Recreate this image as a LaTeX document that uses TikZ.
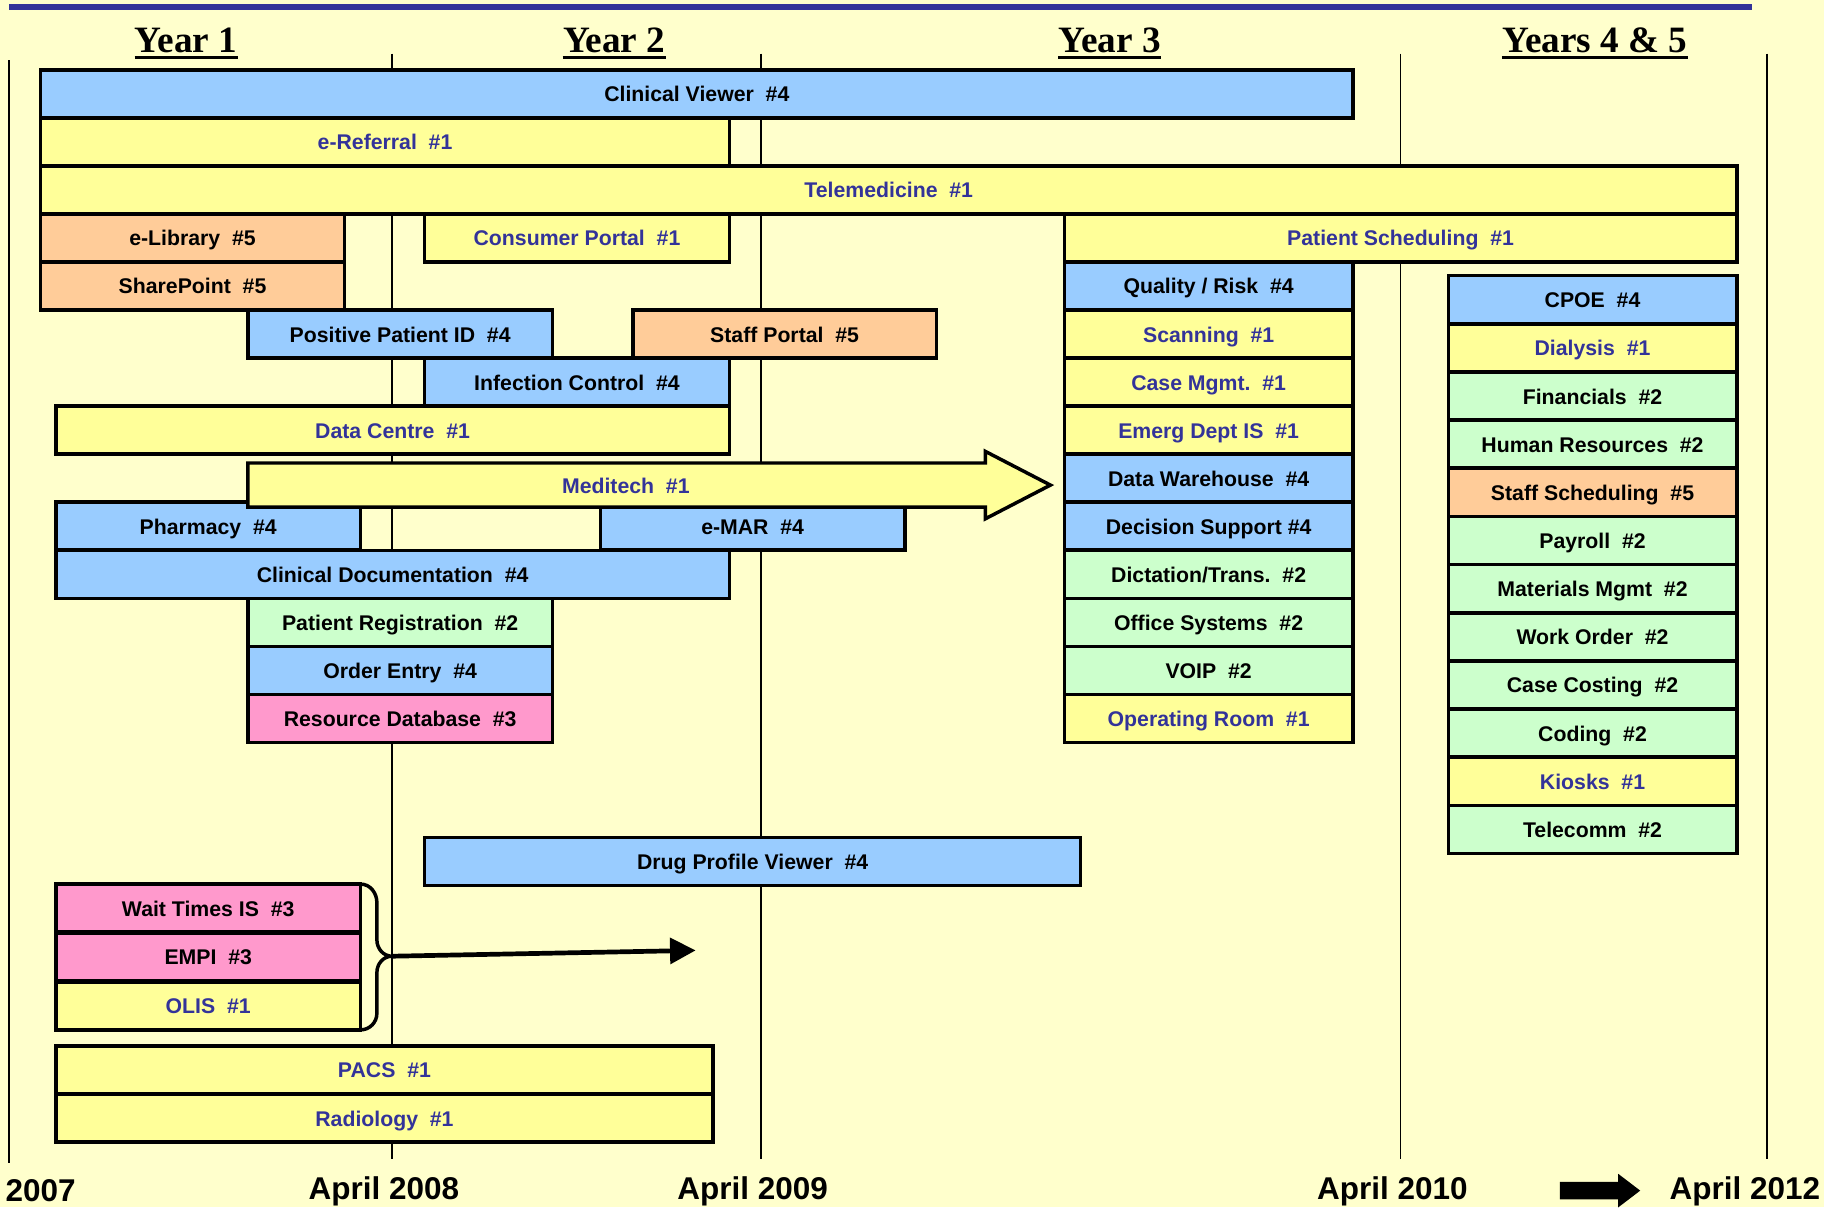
\documentclass[tikz,border=0pt]{standalone}
\usepackage{fontspec}
\setsansfont{Liberation Sans}
\newfontfamily\headfont{Liberation Serif}
\usepackage{xcolor}
\definecolor{page-yellow}{RGB}{255,255,204}
\definecolor{bar-blue}{RGB}{153,204,255}
\definecolor{bar-yellow}{RGB}{255,255,153}
\definecolor{bar-orange}{RGB}{255,204,153}
\definecolor{bar-green}{RGB}{204,255,204}
\definecolor{bar-pink}{RGB}{255,153,204}
\definecolor{navy}{RGB}{51,51,153}
\usepackage{tikz}
\usetikzlibrary{arrows.meta}

\tikzset{
	bar text/.style={text height=0.9em, text depth=0.12em,
		font=\sffamily\bfseries\fontsize{10.4}{12}\selectfont},
	bar/.style={bar text, draw=black, line width=1.7pt, inner sep=0pt,
		outer sep=0pt, minimum height=0.826cm, text=black},
	blue bar/.style={bar, fill=bar-blue},
	yellow bar/.style={bar, fill=bar-yellow, text=navy},
	orange bar/.style={bar, fill=bar-orange},
	green bar/.style={bar, fill=bar-green},
	pink bar/.style={bar, fill=bar-pink},
	grid line/.style={line width=0.8pt},
	year/.style={anchor=base, inner sep=0pt,
		font=\headfont\bfseries\fontsize{18.2}{20}\selectfont},
	date/.style={anchor=base, inner sep=0pt,
		font=\sffamily\bfseries\fontsize{15.4}{18}\selectfont},
	year rule/.style={line width=1.7pt},
}

% name, style, left, right, top, label
\newcommand{\plan}[6]{%
	\node[#2, minimum width={(#4-#3)*0.02cm}] (#1) at ({(#3+#4)/2},{#5+20.65}) {#6};}

\begin{document}
\begin{tikzpicture}[x=0.02cm, y=-0.02cm, >=stealth]
	\fill[page-yellow] (0,0) rectangle (1568,1038);
	\useasboundingbox (0,0) rectangle (1568,1038);
	\draw[navy, line width=2.8pt] (8,6) -- (1506,6);
	
	\draw[grid line] (8,52) -- (8,1000)
		(337,46) -- (337,996) (654,46) -- (654,996)
		(1204,46) -- (1204,996) (1519,46) -- (1519,996);
	
	\node[year] (y1) at (160,45) {Year 1};
	\node[year] (y2) at (528,45) {Year 2};
	\node[year] (y3) at (954,45) {Year 3};
	\node[year] (y45) at (1371,45) {Years 4 \& 5};
	\draw[year rule]
		([yshift=-0.09cm]y1.base west) -- ([yshift=-0.09cm]y1.base east)
		([yshift=-0.09cm]y2.base west) -- ([yshift=-0.09cm]y2.base east)
		([yshift=-0.09cm]y3.base west) -- ([yshift=-0.09cm]y3.base east)
		([yshift=-0.09cm]y45.base west) -- ([yshift=-0.09cm]y45.base east);
	
%	=======================================

	\plan{cv}{blue bar}{35}{1163}{60}{Clinical Viewer\ \ \#4}
	\plan{eref}{yellow bar}{35}{627}{101.3}{e-Referral\ \ \#1}
	\plan{tele}{yellow bar}{35}{1493}{142.6}{Telemedicine\ \ \#1}
	\plan{elib}{orange bar}{35}{296}{183.9}{e-Library\ \ \#5}
	\plan{cport}{yellow bar}{365}{627}{183.9}{Consumer Portal\ \ \#1}
	\plan{psched}{yellow bar}{915}{1493}{183.9}{Patient Scheduling\ \ \#1}
	\plan{share}{orange bar}{35}{296}{225.2}{SharePoint\ \ \#5}
	\plan{ppid}{blue bar}{213}{475}{266.5}{Positive Patient ID\ \ \#4}
	\plan{sport}{orange bar}{544}{805}{266.5}{Staff Portal\ \ \#5}
	\plan{infc}{blue bar}{365}{627}{307.8}{Infection Control\ \ \#4}
	\plan{dcen}{yellow bar}{48}{627}{349.1}{Data Centre\ \ \#1}
	\plan{pharm}{blue bar}{48}{310}{431.7}{Pharmacy\ \ \#4}
	\plan{emar}{blue bar}{516}{778}{431.7}{e-MAR\ \ \#4}
	\plan{cdoc}{blue bar}{48}{627}{473}{Clinical Documentation\ \ \#4}
	\plan{preg}{green bar}{213}{475}{514.3}{Patient Registration\ \ \#2}
	\plan{oent}{blue bar}{213}{475}{555.6}{Order Entry\ \ \#4}
	\plan{rdb}{pink bar}{213}{475}{596.9}{Resource Database\ \ \#3}
	
	\draw[bar, fill=bar-yellow] (213,398) -- (847,398) -- (847,388) -- (903,417)
		-- (847,446) -- (847,436) -- (213,436) -- cycle;
	\node[bar text, text=navy] (medi) at (538,417) {Meditech\ \ \#1};
	
%	=======================================

	\plan{qual}{blue bar}{915}{1163}{225.2}{Quality / Risk\ \ \#4}
	\plan{scan}{yellow bar}{915}{1163}{266.5}{Scanning\ \ \#1}
	\plan{case}{yellow bar}{915}{1163}{307.8}{Case Mgmt.\ \ \#1}
	\plan{emerg}{yellow bar}{915}{1163}{349.1}{Emerg Dept IS\ \ \#1}
	\plan{dware}{blue bar}{915}{1163}{390.4}{Data Warehouse\ \ \#4}
	\plan{dsup}{blue bar}{915}{1163}{431.7}{Decision Support \#4}
	\plan{dict}{green bar}{915}{1163}{473}{Dictation/Trans.\ \ \#2}
	\plan{offs}{green bar}{915}{1163}{514.3}{Office Systems\ \ \#2}
	\plan{voip}{green bar}{915}{1163}{555.6}{VOIP\ \ \#2}
	\plan{oroom}{yellow bar}{915}{1163}{596.9}{Operating Room\ \ \#1}
	
	\plan{cpoe}{blue bar}{1245}{1493}{237}{CPOE\ \ \#4}
	\plan{dial}{yellow bar}{1245}{1493}{278.4}{Dialysis\ \ \#1}
	\plan{fin}{green bar}{1245}{1493}{319.8}{Financials\ \ \#2}
	\plan{hr}{green bar}{1245}{1493}{361.2}{Human Resources\ \ \#2}
	\plan{ssched}{orange bar}{1245}{1493}{402.6}{Staff Scheduling\ \ \#5}
	\plan{pay}{green bar}{1245}{1493}{444}{Payroll\ \ \#2}
	\plan{mat}{green bar}{1245}{1493}{485.4}{Materials Mgmt\ \ \#2}
	\plan{word}{green bar}{1245}{1493}{526.8}{Work Order\ \ \#2}
	\plan{ccost}{green bar}{1245}{1493}{568.2}{Case Costing\ \ \#2}
	\plan{cod}{green bar}{1245}{1493}{609.6}{Coding\ \ \#2}
	\plan{kiosk}{yellow bar}{1245}{1493}{651}{Kiosks\ \ \#1}
	\plan{telc}{green bar}{1245}{1493}{692.4}{Telecomm\ \ \#2}
	
%	=======================================

	\plan{drug}{blue bar}{365}{929}{720}{Drug Profile Viewer\ \ \#4}
	\plan{wait}{pink bar}{48}{310}{760}{Wait Times IS\ \ \#3}
	\plan{empi}{pink bar}{48}{310}{802}{EMPI\ \ \#3}
	\plan{olis}{yellow bar}{48}{310}{844}{OLIS\ \ \#1}
	\plan{pacs}{yellow bar}{48}{613}{899}{PACS\ \ \#1}
	\plan{rad}{yellow bar}{48}{613}{940.5}{Radiology\ \ \#1}
	
	\coordinate (brace tip) at (337,822);
	\coordinate (hold end) at (598,817);
	\draw[line width=1.7pt] (wait.north east) to[out=0,in=90] (324,776) -- (324,808)
		to[out=-90,in=180] (brace tip) to[out=180,in=90] (324,836) -- (324,871)
		to[out=-90,in=0] (olis.south east);
	\draw[line width=2.3pt, -{Triangle[length=0.44cm,width=0.44cm]}]
		(brace tip) -- (hold end);
	
%	=======================================

	\node[date] (d07) at (35,1033) {2007};
	\node[date] (d08) at (330,1031) {April 2008};
	\node[date] (d09) at (647,1031) {April 2009};
	\node[date] (d10) at (1197,1031) {April 2010};
	\node[date] (d12) at (1500,1031) {April 2012};
	\fill (1341,1016) -- (1391,1016) -- (1391,1009) -- (1410,1023.5)
		-- (1391,1038) -- (1391,1031) -- (1341,1031) -- cycle;
\end{tikzpicture}
\end{document}
